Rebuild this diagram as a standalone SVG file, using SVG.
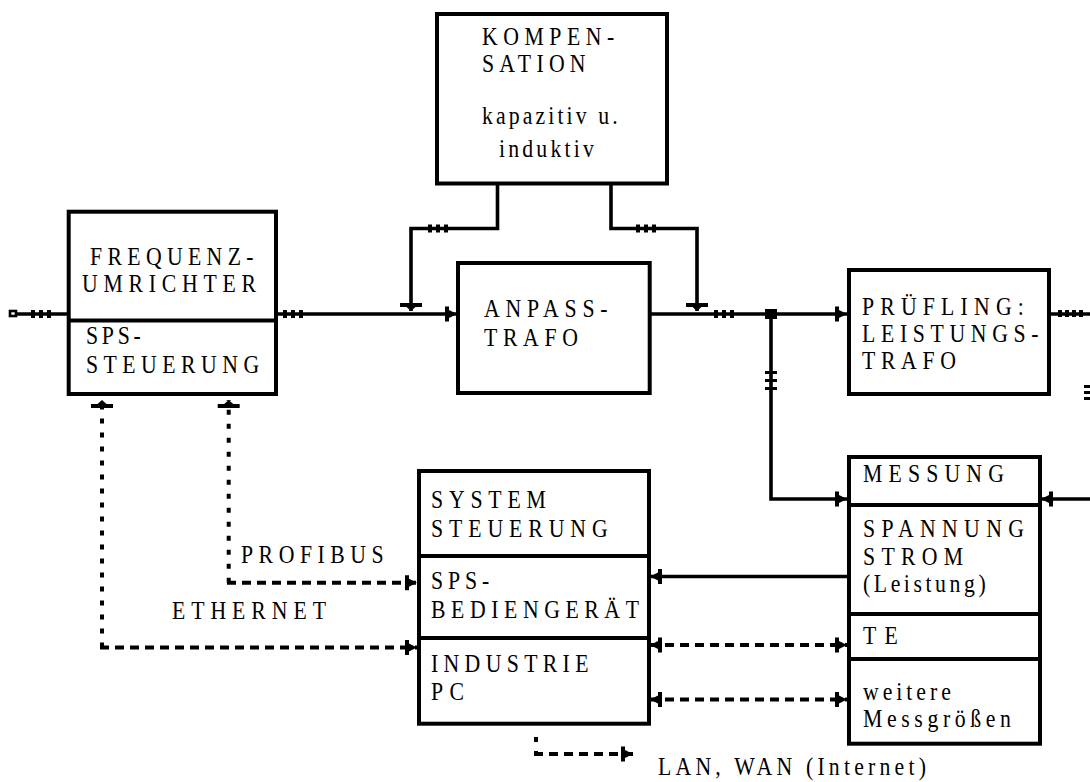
<svg xmlns="http://www.w3.org/2000/svg" width="1090" height="782" viewBox="0 0 1090 782">
<style>
.box{fill:#fff;stroke:#000;stroke-width:4}
.div{stroke:#000;stroke-width:3.8;fill:none}
.ln{stroke:#000;stroke-width:3.6;fill:none}
.dv{stroke:#000;stroke-width:4;fill:none;stroke-dasharray:5 9}
.dh{stroke:#000;stroke-width:4;fill:none;stroke-dasharray:9 6}
.t{font-family:"Liberation Serif","Times New Roman",serif;font-size:25px;fill:#000}
</style>
<defs>
<marker id="a" markerUnits="userSpaceOnUse" viewBox="-14 -10 16 20" refX="0" refY="0" markerWidth="16" markerHeight="20" orient="auto-start-reverse">
<path d="M-12,-7.5H-8V-4L0,0L-8,4V7.5H-12Z" fill="#000"/>
</marker>
<marker id="tee" markerUnits="userSpaceOnUse" viewBox="-12 -12 14 24" refX="0" refY="0" markerWidth="14" markerHeight="24" orient="auto-start-reverse">
<path d="M-8,-11H-4V-4.5L0,0L-4,4.5V11H-8Z" fill="#000"/>
</marker>
<g id="tk"><rect x="0" y="-4" width="4" height="8"/><rect x="8" y="-4" width="4" height="8"/><rect x="16" y="-4" width="4" height="8"/></g>
</defs>
<rect width="1090" height="782" fill="#fff"/>

<g id="connectors">
<rect x="10" y="311" width="6" height="5" fill="#fff" stroke="#000" stroke-width="2.6"/>
<line class="ln" x1="17" y1="314" x2="68" y2="314"/>
<use href="#tk" x="31" y="314"/>
<line class="ln" x1="277" y1="314" x2="457" y2="314" marker-end="url(#a)"/>
<use href="#tk" x="283" y="314"/>
<polyline class="ln" points="497.5,183.5 497.5,228.5 411,228.5 411,311" marker-end="url(#tee)"/>
<use href="#tk" x="428" y="228.5"/>
<polyline class="ln" points="611,183.5 611,228.5 697,228.5 697,311" marker-end="url(#tee)"/>
<use href="#tk" x="636" y="228.5"/>
<line class="ln" x1="650" y1="314" x2="847" y2="314" marker-end="url(#a)"/>
<use href="#tk" x="714" y="314"/>
<rect x="765" y="309" width="12" height="10" fill="#000"/>
<polyline class="ln" points="771,314 771,499 847,499" marker-end="url(#a)"/>
<rect x="765" y="371" width="12" height="3"/>
<rect x="765" y="379" width="12" height="3"/>
<rect x="765" y="387" width="12" height="3"/>
<line class="ln" x1="1049" y1="314" x2="1090" y2="314"/>
<rect x="1058" y="310" width="4" height="7"/>
<rect x="1065" y="310" width="4" height="7"/>
<rect x="1072" y="310" width="4" height="7"/>
<rect x="1079" y="310" width="4" height="7"/>
<rect x="1084" y="385" width="6" height="3"/>
<rect x="1084" y="391" width="6" height="3"/>
<rect x="1084" y="397" width="6" height="3"/>
<line class="ln" x1="1090" y1="499" x2="1041" y2="499" marker-end="url(#a)"/>
<line class="ln" x1="847" y1="576.5" x2="650" y2="576.5" marker-end="url(#a)"/>
<line class="dh" x1="650" y1="645" x2="847" y2="645" marker-start="url(#a)" marker-end="url(#a)"/>
<line class="dh" x1="650" y1="699.5" x2="847" y2="699.5" marker-start="url(#a)" marker-end="url(#a)"/>
<line class="dv" x1="102" y1="647.5" x2="102" y2="400" marker-end="url(#tee)"/>
<line class="dh" x1="100" y1="647.5" x2="417" y2="647.5" marker-end="url(#a)"/>
<line class="dv" x1="228.7" y1="582.7" x2="228.7" y2="400" marker-end="url(#tee)"/>
<line class="dh" x1="227" y1="582.7" x2="417" y2="582.7" marker-end="url(#a)"/>
<line class="dv" x1="536" y1="737" x2="536" y2="754"/>
<line class="dh" x1="534" y1="754" x2="633" y2="754" marker-end="url(#a)"/>
</g>

<g id="kompensation">
<rect class="box" x="437" y="14" width="230" height="169.5"/>
<text class="t" transform="translate(482 45) scale(.87 1)" textLength="152" lengthAdjust="spacing">KOMPEN-</text>
<text class="t" transform="translate(482 72) scale(.87 1)" textLength="119" lengthAdjust="spacing">SATION</text>
<text class="t" transform="translate(482 124) scale(.87 1)" textLength="156" lengthAdjust="spacing">kapazitiv u.</text>
<text class="t" transform="translate(499 157) scale(.87 1)" textLength="109" lengthAdjust="spacing">induktiv</text>
</g>

<g id="frequenzumrichter">
<rect class="box" x="68.7" y="211.7" width="207.3" height="182.3"/>
<line class="div" x1="68.7" y1="320.5" x2="276" y2="320.5"/>
<text class="t" transform="translate(90 265) scale(.87 1)" textLength="188" lengthAdjust="spacing">FREQUENZ-</text>
<text class="t" transform="translate(82 292) scale(.87 1)" textLength="200" lengthAdjust="spacing">UMRICHTER</text>
<text class="t" transform="translate(86 344) scale(.87 1)" textLength="63" lengthAdjust="spacing">SPS-</text>
<text class="t" transform="translate(86 373) scale(.87 1)" textLength="199" lengthAdjust="spacing">STEUERUNG</text>
</g>

<g id="anpasstrafo">
<rect class="box" x="458" y="263" width="191.7" height="130"/>
<text class="t" transform="translate(484 317) scale(.87 1)" textLength="142" lengthAdjust="spacing">ANPASS-</text>
<text class="t" transform="translate(484 346) scale(.87 1)" textLength="108" lengthAdjust="spacing">TRAFO</text>
</g>

<g id="pruefling">
<rect class="box" x="849" y="270" width="200" height="124"/>
<text class="t" transform="translate(862 315) scale(.87 1)" textLength="186" lengthAdjust="spacing">PRÜFLING:</text>
<text class="t" transform="translate(862 342) scale(.87 1)" textLength="203" lengthAdjust="spacing">LEISTUNGS-</text>
<text class="t" transform="translate(862 369) scale(.87 1)" textLength="108" lengthAdjust="spacing">TRAFO</text>
</g>

<g id="messung">
<rect class="box" x="849" y="457" width="191" height="286.7"/>
<line class="div" x1="849" y1="505" x2="1040" y2="505"/>
<line class="div" x1="849" y1="614" x2="1040" y2="614"/>
<line class="div" x1="849" y1="659" x2="1040" y2="659"/>
<text class="t" transform="translate(863 482) scale(.87 1)" textLength="162" lengthAdjust="spacing">MESSUNG</text>
<text class="t" transform="translate(863 537) scale(.87 1)" textLength="185" lengthAdjust="spacing">SPANNUNG</text>
<text class="t" transform="translate(863 565) scale(.87 1)" textLength="115" lengthAdjust="spacing">STROM</text>
<text class="t" transform="translate(863 592) scale(.87 1)" textLength="141" lengthAdjust="spacing">(Leistung)</text>
<text class="t" transform="translate(863 644) scale(.87 1)" textLength="40" lengthAdjust="spacing">TE</text>
<text class="t" transform="translate(863 700) scale(.87 1)" textLength="101" lengthAdjust="spacing">weitere</text>
<text class="t" transform="translate(863 727) scale(.87 1)" textLength="170" lengthAdjust="spacing">Messgrößen</text>
</g>

<g id="systemsteuerung">
<rect class="box" x="419" y="471" width="230" height="252.7"/>
<line class="div" x1="419" y1="556" x2="649" y2="556"/>
<line class="div" x1="419" y1="638" x2="649" y2="638"/>
<text class="t" transform="translate(431 508) scale(.87 1)" textLength="132" lengthAdjust="spacing">SYSTEM</text>
<text class="t" transform="translate(431 537) scale(.87 1)" textLength="203" lengthAdjust="spacing">STEUERUNG</text>
<text class="t" transform="translate(431 589) scale(.87 1)" textLength="67" lengthAdjust="spacing">SPS-</text>
<text class="t" transform="translate(431 618) scale(.87 1)" textLength="239" lengthAdjust="spacing">BEDIENGERÄT</text>
<text class="t" transform="translate(431 672) scale(.87 1)" textLength="181" lengthAdjust="spacing">INDUSTRIE</text>
<text class="t" transform="translate(431 700) scale(.87 1)" textLength="38" lengthAdjust="spacing">PC</text>
</g>

<g id="labels">
<text class="t" transform="translate(241 563) scale(.87 1)" textLength="164" lengthAdjust="spacing">PROFIBUS</text>
<text class="t" transform="translate(172 619) scale(.87 1)" textLength="177" lengthAdjust="spacing">ETHERNET</text>
<text class="t" transform="translate(658 775) scale(.87 1)" textLength="308" lengthAdjust="spacing">LAN, WAN (Internet)</text>
</g>
</svg>
